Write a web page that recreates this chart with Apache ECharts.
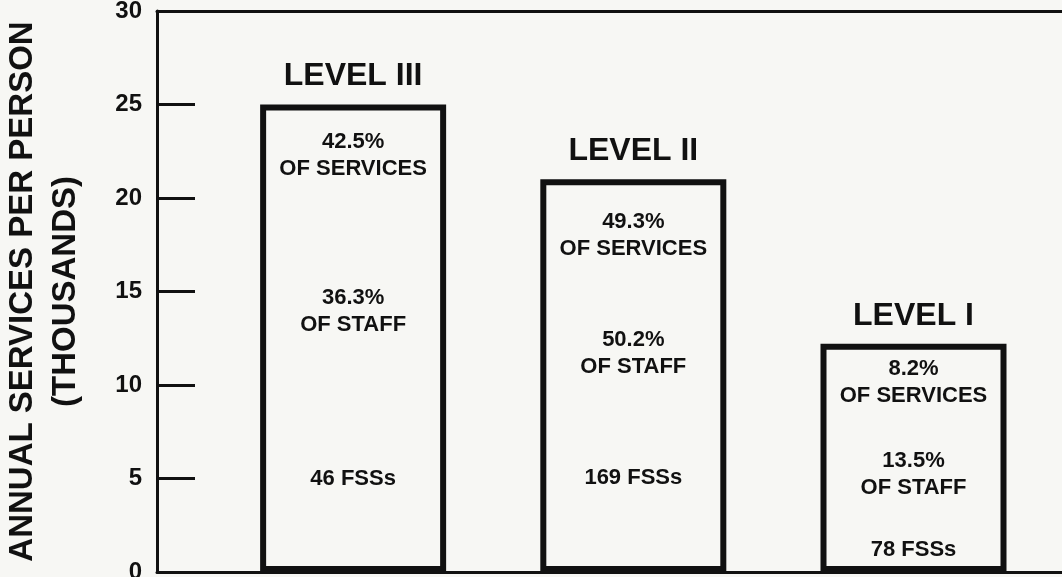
<!DOCTYPE html>
<html>
<head>
<meta charset="utf-8">
<script src="https://cdn.jsdelivr.net/npm/echarts@6/dist/echarts.min.js"></script>
<style>
html,body{margin:0;padding:0;background:#f7f7f4;}
#c{width:1062px;height:577px;}
</style>
</head>
<body>
<div id="c"></div>
<script>
// ---- data ----
const levels = ['LEVEL III', 'LEVEL II', 'LEVEL I'];
const servicesPerPerson = [25, 21, 12.2];
const pctServices = ['42.5%', '49.3%', '8.2%'];
const pctStaff = ['36.3%', '50.2%', '13.5%'];
const fssCounts = [46, 169, 78];
const yTicks = [0, 5, 10, 15, 20, 25, 30];

// ---- layout (label anchor heights, axis units) ----
const servicesLabelY = [22.3, 18.0, 10.15];
const staffLabelY = [13.95, 11.7, 5.2];
const fssLabelY = [5.0, 5.05, 1.2];

const INK = '#111';
const BG = '#f7f7f4';
const FONT = 'Liberation Sans';

const barData = levels.map((n, i) => ({ name: n, value: [i + 1, servicesPerPerson[i]] }));
function textSeries(yArr, fmt) {
  return {
    type: 'scatter',
    symbolSize: 1,
    itemStyle: { color: 'rgba(0,0,0,0)', opacity: 1 },
    silent: true,
    data: yArr.map((y, i) => ({ value: [i + 1, y], name: fmt(i) })),
    label: {
      show: true, position: 'inside', formatter: '{b}', opacity: 1,
      color: INK, fontFamily: FONT, fontWeight: 'bold', fontSize: 22,
      lineHeight: 27, align: 'center'
    },
    z: 5
  };
}

const chart = echarts.init(document.getElementById('c'));
chart.setOption({
  backgroundColor: BG,
  animation: false,
  grid: { left: 157, top: 11, bottom: 5, right: 0, outerBoundsMode: 'none', containLabel: false },
  xAxis: [
    { type: 'value', min: 0.3, max: 3.53, position: 'bottom',
      axisLine: { show: true, onZero: false, lineStyle: { color: INK, width: 3 } },
      axisTick: { show: false }, axisLabel: { show: false }, splitLine: { show: false } },
    { type: 'value', min: 0.3, max: 3.53, position: 'top',
      axisLine: { show: true, onZero: false, lineStyle: { color: INK, width: 3 } },
      axisTick: { show: false }, axisLabel: { show: false }, splitLine: { show: false } }
  ],
  yAxis: {
    type: 'value', min: yTicks[0], max: yTicks[yTicks.length - 1], interval: 5,
    axisLine: { show: true, lineStyle: { color: INK, width: 3 } },
    axisTick: { show: true, inside: true, length: 38, lineStyle: { color: INK, width: 3 } },
    axisLabel: { color: INK, fontFamily: FONT, fontWeight: 'bold', fontSize: 24, margin: 15 },
    splitLine: { show: false },
    name: 'ANNUAL SERVICES PER PERSON\n(THOUSANDS)',
    nameLocation: 'middle', nameRotate: 90, nameGap: 70,
    nameTextStyle: { color: INK, fontFamily: FONT, fontWeight: 'bold', fontSize: 33, lineHeight: 43, align: 'center' }
  },
  series: [
    {
      type: 'bar', xAxisIndex: 0, barWidth: 186, data: barData,
      itemStyle: { color: BG, borderColor: INK, borderWidth: 6 },
      label: { show: true, position: 'top', distance: 12, formatter: '{b}',
        color: INK, fontFamily: FONT, fontWeight: 'bold', fontSize: 32 }
    },
    textSeries(servicesLabelY, i => pctServices[i] + '\nOF SERVICES'),
    textSeries(staffLabelY, i => pctStaff[i] + '\nOF STAFF'),
    textSeries(fssLabelY, i => fssCounts[i] + ' FSSs')
  ]
});
</script>
</body>
</html>
